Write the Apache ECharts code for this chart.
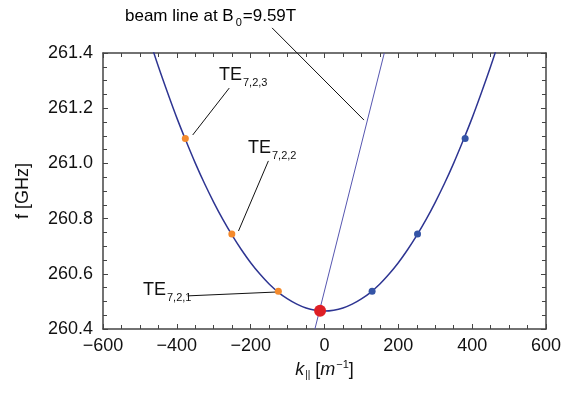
<!DOCTYPE html>
<html>
<head>
<meta charset="utf-8">
<script src="https://cdn.jsdelivr.net/npm/echarts@6/dist/echarts.min.js"></script>
<style>
  html, body { margin: 0; padding: 0; background: #fff; }
  #chart { width: 564px; height: 396px; }
</style>
</head>
<body>
<div id="chart"></div>
<script>
// dispersion curve: k|| [1/m] -> f [GHz]
const curveK = [-500, -475, -450, -425, -400, -375, -350, -325, -300, -275, -250, -225, -200, -175, -150, -125, -100, -75, -50, -25, 0,
  25, 50, 75, 100, 125, 150, 175, 200, 225, 250, 275, 300, 325, 350, 375, 400, 425, 450, 475, 500];
const curveF = [261.56, 261.453, 261.351, 261.256, 261.165, 261.081, 261.001, 260.927, 260.859, 260.796, 260.739, 260.687, 260.640, 260.599, 260.563, 260.533, 260.509, 260.490, 260.476, 260.468, 260.465,
  260.468, 260.476, 260.490, 260.509, 260.533, 260.563, 260.599, 260.640, 260.687, 260.739, 260.796, 260.859, 260.927, 261.001, 261.081, 261.165, 261.256, 261.351, 261.453, 261.56];

// beam line at B0 = 9.59 T (end points on the frame)
const beamK = [-26, 162];
const beamF = [260.4, 261.4];

// TE7,2,n modes (negative k, orange) and their mirror (positive k, blue)
const modeNames = ['TE7,2,1', 'TE7,2,2', 'TE7,2,3'];
const modeKNeg = [-125, -251, -377];
const modeKPos = [129, 252, 381];
const modeF = [260.537, 260.744, 261.09];

// operating point (red)
const opK = -12;
const opF = 260.466;

// leader lines for annotations [k, f] pairs
const leaderBeam = [[-142, 261.491], [107, 261.157]];
const leader723 = [[-258, 261.273], [-357, 261.103]];
const leader722 = [[-152, 261.009], [-233, 260.755]];
const leader721 = [[-371, 260.52], [-131, 260.534]];

const FONT = 'Liberation Sans, Arial, Helvetica, sans-serif';
const frameColor = '#444';

const chart = echarts.init(document.getElementById('chart'), null, { renderer: 'canvas' });

function fmtX(v) { return v < 0 ? '\u2212' + (-v) : String(v); }

const axisCommon = {
  axisLine: { show: true, onZero: false, lineStyle: { color: frameColor, width: 1.5 } },
  axisTick: { show: true, inside: true, length: 5, lineStyle: { color: frameColor, width: 1 } },
  minorTick: { show: true, splitNumber: 4, length: 4, lineStyle: { color: frameColor, width: 1 } },
  splitLine: { show: false },
};

function leaderSeries(pts) {
  return {
    type: 'line', data: pts, xAxisIndex: 0, yAxisIndex: 0,
    symbol: 'none', silent: true, clip: false, animation: false,
    lineStyle: { color: '#111', width: 1 }, z: 4,
  };
}

const subRich = {
  m: { fontSize: 18, fontFamily: FONT, color: '#111' },
  s: { fontSize: 11, fontFamily: FONT, color: '#111', padding: [15, 0, 0, 1] },
};

function label(x, y, text) {
  return {
    type: 'text', left: x, top: y, z: 10,
    style: { text: text, rich: subRich, fill: '#111' },
  };
}

chart.setOption({
  animation: false,
  backgroundColor: '#fff',
  grid: { left: 103, right: 16, top: 53, bottom: 67, containLabel: false },
  xAxis: [
    Object.assign({}, axisCommon, {
      type: 'value', min: -600, max: 600, interval: 200, position: 'bottom',
      axisLabel: { color: '#111', fontSize: 18, fontFamily: FONT, margin: 8, formatter: fmtX },
      name: '{i|k}{p|||} [{i|m}{sup|\u22121}]',
      nameLocation: 'middle', nameGap: 28,
      nameTextStyle: {
        color: '#111', fontSize: 18, fontFamily: FONT,
        rich: {
          i: { fontStyle: 'italic', fontSize: 18, fontFamily: FONT, color: '#111' },
          p: { fontSize: 10, fontFamily: FONT, color: '#111', padding: [10, 0, 0, 1] },
          sup: { fontSize: 11, fontFamily: FONT, color: '#111', padding: [0, 0, 10, 1] },
        },
      },
    }),
    Object.assign({}, axisCommon, {
      type: 'value', min: -600, max: 600, interval: 200, position: 'top',
      axisLabel: { show: false },
    }),
  ],
  yAxis: [
    Object.assign({}, axisCommon, {
      type: 'value', min: 260.4, max: 261.4, interval: 0.2, position: 'left',
      axisLabel: { color: '#111', fontSize: 18, fontFamily: FONT, margin: 10, formatter: v => v.toFixed(1) },
      name: 'f [GHz]', nameLocation: 'middle', nameGap: 71, nameRotate: 90,
      nameTextStyle: { color: '#111', fontSize: 18, fontFamily: FONT },
    }),
    Object.assign({}, axisCommon, {
      type: 'value', min: 260.4, max: 261.4, interval: 0.2, position: 'right',
      axisLabel: { show: false },
    }),
  ],
  graphic: [
    {
      type: 'text', left: 125, top: 8, z: 10,
      style: {
        text: '{m|beam line at B}{s|0}{m|=9.59T}',
        rich: {
          m: { fontSize: 17, fontFamily: FONT, color: '#111' },
          s: { fontSize: 11, fontFamily: FONT, color: '#111', padding: [13, 1, 0, 2] },
        },
      },
    },
    label(219, 66, '{m|TE}{s|7,2,3}'),
    label(248, 139, '{m|TE}{s|7,2,2}'),
    label(143, 281, '{m|TE}{s|7,2,1}'),
  ],
  series: [
    {
      type: 'line', name: 'dispersion', smooth: 0.3, symbol: 'none', clip: true,
      data: curveK.map((k, i) => [k, curveF[i]]),
      lineStyle: { color: '#2e3592', width: 1.5 }, z: 3,
    },
    {
      type: 'line', name: 'beam', symbol: 'none', clip: true,
      data: beamK.map((k, i) => [k, beamF[i]]),
      lineStyle: { color: '#5656b0', width: 1 }, z: 3,
    },
    leaderSeries(leaderBeam),
    leaderSeries(leader723),
    leaderSeries(leader722),
    leaderSeries(leader721),
    {
      type: 'scatter', name: 'modes-', symbolSize: 7,
      data: modeKNeg.map((k, i) => ({ value: [k, modeF[i]], name: modeNames[i] })),
      itemStyle: { color: '#f48a2c', opacity: 1 }, z: 5,
    },
    {
      type: 'scatter', name: 'modes+', symbolSize: 7,
      data: modeKPos.map((k, i) => ({ value: [k, modeF[i]], name: modeNames[i] })),
      itemStyle: { color: '#3454a6', opacity: 1 }, z: 5,
    },
    {
      type: 'scatter', name: 'operating point', symbolSize: 12,
      data: [[opK, opF]],
      itemStyle: { color: '#de1f26', opacity: 1 }, z: 6,
    },
  ],
});
</script>
</body>
</html>
